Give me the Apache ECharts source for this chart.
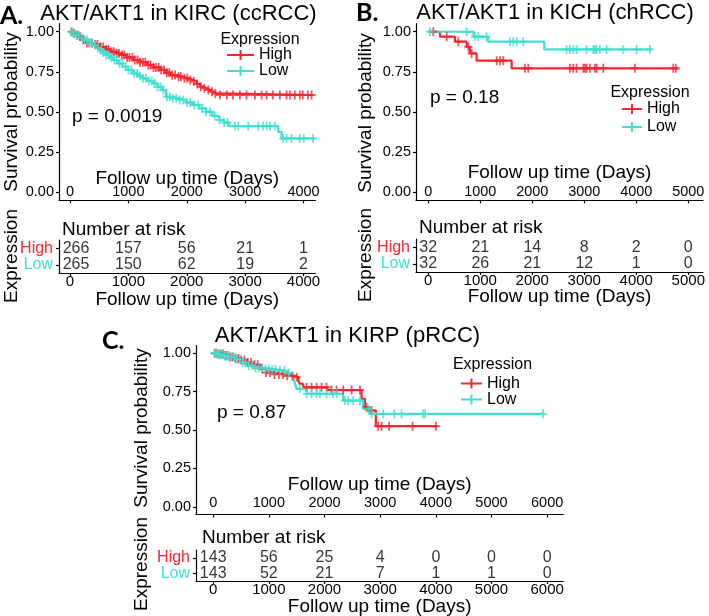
<!DOCTYPE html>
<html><head><meta charset="utf-8">
<script src="https://cdn.jsdelivr.net/npm/echarts@6/dist/echarts.min.js"></script>
<style>html,body{margin:0;padding:0;background:#fff}#c{width:709px;height:616px}</style>
</head><body><div id="c"></div>
<script>
// ---------- DATA ----------
const survTicks = [0, 0.25, 0.5, 0.75, 1];
const riskRows = ['Low', 'High'];

// Panel A: KIRC
const aTimeTicks = [0, 1000, 2000, 3000, 4000];
const aHighSteps = [[0,1],[40,0.99],[100,0.98],[150,0.97],[200,0.95],[260,0.93],[400,0.92],[520,0.905],[600,0.89],[690,0.876],[780,0.865],[860,0.855],[970,0.84],[1090,0.824],[1200,0.81],[1316,0.793],[1430,0.778],[1544,0.762],[1630,0.745],[1715,0.73],[1830,0.72],[1943,0.71],[2030,0.70],[2114,0.69],[2170,0.675],[2228,0.658],[2290,0.648],[2342,0.637],[2400,0.627],[2456,0.616],[2513,0.606],[4164,0.606]];
const aLowSteps = [[0,1],[50,0.99],[105,0.979],[160,0.963],[219,0.948],[300,0.932],[390,0.917],[450,0.901],[504,0.886],[560,0.87],[618,0.855],[675,0.84],[732,0.824],[820,0.803],[903,0.782],[990,0.761],[1074,0.74],[1160,0.725],[1245,0.71],[1330,0.694],[1416,0.678],[1500,0.657],[1587,0.637],[1644,0.595],[1760,0.585],[1873,0.575],[1990,0.56],[2101,0.544],[2215,0.523],[2329,0.502],[2440,0.476],[2557,0.45],[2640,0.435],[2728,0.413],[3566,0.377],[3623,0.336],[4194,0.336]];
const aHighCensor = [30,70,120,170,230,290,330,380,430,470,520,570,620,660,710,750,800,840,890,930,980,1020,1070,1110,1160,1200,1250,1290,1340,1380,1430,1470,1520,1560,1610,1660,1700,1750,1800,1860,1900,1960,2010,2060,2120,2180,2240,2300,2370,2430,2490,2569,2684,2791,2910,3024,3167,3282,3368,3474,3595,3709,3766,3851,3937,3988,4074,4138];
const aLowCensor = [20,60,110,150,200,250,290,340,380,430,480,530,570,620,660,710,760,800,850,900,950,1000,1050,1100,1150,1200,1250,1300,1350,1400,1450,1500,1550,1600,1660,1710,1760,1820,1880,1940,2000,2060,2130,2200,2260,2330,2400,2480,2560,2640,2700,2826,2882,3053,3224,3309,3368,3424,3509,3651,3709,3795,3937,4005,4164];
const aRiskHigh = [266, 157, 56, 21, 1];
const aRiskLow = [265, 150, 62, 19, 2];

// Panel B: KICH
const bTimeTicks = [0, 1000, 2000, 3000, 4000, 5000];
const bHighSteps = [[0,1],[225,0.969],[513,0.938],[738,0.906],[800,0.865],[930,0.82],[1603,0.772],[4808,0.772]];
const bLowSteps = [[0,1],[870,0.969],[1150,0.938],[2230,0.89],[4296,0.89]];
const bHighCensor = [96,354,578,770,834,1315,1379,1443,1859,1923,2724,2788,2852,2981,3013,3045,3109,3205,3237,3365,3974,4711,4760];
const bLowCensor = [32,738,898,962,1122,1571,1635,1699,1827,2660,2724,2788,2852,3045,3173,3205,3237,3301,3429,3750,4006,4263];
const bRiskHigh = [32, 21, 14, 8, 2, 0];
const bRiskLow = [32, 26, 21, 12, 1, 0];

// Panel C: KIRP
const cTimeTicks = [0, 1000, 2000, 3000, 4000, 5000, 6000];
const cHighSteps = [[0,1],[100,0.995],[200,0.985],[300,0.975],[400,0.965],[500,0.955],[600,0.94],[700,0.925],[839,0.898],[950,0.875],[1050,0.862],[1300,0.852],[1468,0.844],[1530,0.82],[1557,0.80],[1617,0.778],[2050,0.76],[2665,0.703],[2725,0.648],[2780,0.627],[2922,0.525],[4025,0.525]];
const cLowSteps = [[0,1],[80,0.99],[200,0.98],[300,0.974],[400,0.96],[500,0.94],[600,0.92],[750,0.905],[898,0.898],[1050,0.892],[1198,0.887],[1300,0.87],[1437,0.844],[1470,0.80],[1497,0.768],[1677,0.736],[2335,0.692],[2695,0.638],[2815,0.605],[5928,0.605]];
const cHighCensor = [30,60,100,140,180,220,260,300,350,400,450,500,560,620,680,740,800,880,950,1020,1100,1180,1250,1330,1420,1500,1678,1768,1857,1947,2037,2127,2216,2336,2487,2636,2755,2845,2964,3025,3161,3581,4000];
const cLowCensor = [20,50,90,130,170,210,250,290,330,380,430,480,530,580,640,700,760,820,880,940,1000,1060,1120,1200,1280,1360,1557,1677,1768,1857,1917,2037,2156,2216,2366,2425,2515,2636,2787,2847,3054,3252,3384,3772,3808,5928];
const cRiskHigh = [143, 56, 25, 4, 0, 0, 0];
const cRiskLow = [143, 52, 21, 7, 1, 1, 0];

// ---------- STYLE / LAYOUT ----------
const RED = '#F5262F', CYAN = '#40E0D0', INK = '#000';
const FONT = '"Liberation Sans", Arial, sans-serif';
const CROSS = 'path://M0,39H100V61H0Z M39,0H61V100H39Z';

const panels = [
  { title:'AKT/AKT1 in KIRC (ccRCC)', letter:'A.', p:'p = 0.0019',
    ticks:aTimeTicks, hs:aHighSteps, ls:aLowSteps, hc:aHighCensor, lc:aLowCensor, rh:aRiskHigh, rl:aRiskLow,
    xmin:-188, xmax:4205,
    km:{left:59, top:23.7, width:256.5, height:176.7}, risk:{left:59, top:240, width:256.5, height:33},
    kmLabelMargin:8.4, kmNameGap:-21.4, riskNameGap:27, firstShift:6,
    legend:{left:227, top:47, w:27, gap:0, lh:16},
    texts:{letter:[0,16], title:[178.5,14], p:[72,117], head:[260,40], nar:[62,230], sp:[12,112], ex:[12,256]} },
  { title:'AKT/AKT1 in KICH (chRCC)', letter:'B.', p:'p = 0.18',
    ticks:bTimeTicks, hs:bHighSteps, ls:bLowSteps, hc:bHighCensor, lc:bLowCensor, rh:bRiskHigh, rl:bRiskLow,
    xmin:-236, xmax:5283,
    km:{left:416, top:23.7, width:287, height:176.7}, risk:{left:416, top:239, width:287, height:33},
    kmLabelMargin:8.4, kmNameGap:-27.4, riskNameGap:25, firstShift:0,
    legend:{left:622, top:101, w:20, gap:2, lh:16},
    texts:{letter:[356,13], title:[555,13], p:[430,98], head:[650,93], nar:[419,228], sp:[366,113], ex:[366,255]} },
  { title:'AKT/AKT1 in KIRP (pRCC)', letter:'C.', p:'p = 0.87',
    ticks:cTimeTicks, hs:cHighSteps, ls:cLowSteps, hc:cHighCensor, lc:cLowCensor, rh:cRiskHigh, rl:cRiskLow,
    xmin:-309, xmax:6290,
    km:{left:196, top:345.5, width:367.3, height:169}, risk:{left:196, top:550, width:367.3, height:31},
    kmLabelMargin:11.5, kmNameGap:-29.5, riskNameGap:26, firstShift:0,
    legend:{left:461, top:375.5, w:21, gap:0, lh:15},
    texts:{letter:[102,341], title:[347.5,336], p:[217,413], head:[492.5,365], nar:[202,538], sp:[142,428], ex:[142,564]} }
];

function survAt(steps, t) {
  let s = steps[0][1];
  for (const [ti, si] of steps) { if (ti <= t) s = si; else break; }
  return s;
}
const axisLine = {show:true, onZero:false, lineStyle:{color:INK, width:1.2}};
const tickStyle = {color:INK, width:1.2};

const grid = [], xAxis = [], yAxis = [], series = [], legend = [], graphic = [];

panels.forEach((P, k) => {
  const gKm = grid.length; grid.push(Object.assign({outerBoundsMode:'none'}, P.km));
  const gRk = grid.length; grid.push(Object.assign({outerBoundsMode:'none'}, P.risk));

  xAxis.push({type:'value', gridIndex:gKm, min:P.xmin, max:P.xmax, axisLine,
    axisTick:{show:true, length:3, customValues:P.ticks, lineStyle:tickStyle},
    axisLabel:{inside:true, margin:P.kmLabelMargin, customValues:P.ticks, formatter:v => String(v), verticalAlign:'middle', fontSize:14.5, color:INK, fontFamily:FONT},
    splitLine:{show:false},
    name:'Follow up time (Days)', nameLocation:'middle', nameGap:P.kmNameGap, nameMoveOverlap:false,
    nameTextStyle:{fontSize:19, color:INK, fontFamily:FONT, verticalAlign:'middle'}});
  yAxis.push({type:'value', gridIndex:gKm, min:-0.05, max:1.05, axisLine,
    axisTick:{show:true, length:3, customValues:survTicks, lineStyle:tickStyle},
    axisLabel:{margin:5, customValues:survTicks, formatter:v => Number(v).toFixed(2), fontSize:14.5, color:INK, fontFamily:FONT},
    splitLine:{show:false}});

  xAxis.push({type:'value', gridIndex:gRk, min:P.xmin, max:P.xmax, axisLine,
    axisTick:{show:true, length:3, customValues:P.ticks, lineStyle:tickStyle},
    axisLabel:{margin:9, customValues:P.ticks, formatter:v => String(v), verticalAlign:'middle', fontSize:15, color:INK, fontFamily:FONT},
    splitLine:{show:false},
    name:'Follow up time (Days)', nameLocation:'middle', nameGap:P.riskNameGap, nameMoveOverlap:false,
    nameTextStyle:{fontSize:19, color:INK, fontFamily:FONT, verticalAlign:'middle'}});
  yAxis.push({type:'category', gridIndex:gRk, boundaryGap:true,
    data:[{value:riskRows[0], textStyle:{color:CYAN}}, {value:riskRows[1], textStyle:{color:RED}}],
    axisLine, axisTick:{show:true, length:3, alignWithLabel:true, interval:0, lineStyle:tickStyle},
    axisLabel:{margin:6, interval:0, fontSize:16, fontFamily:FONT}, splitLine:{show:false}});

  const xi = xAxis.length - 2, yi = yAxis.length - 2;
  const groups = [['High', RED, P.hs, P.hc, P.rh, 1], ['Low', CYAN, P.ls, P.lc, P.rl, 0]];
  groups.forEach(([name, col, steps, cens, risk, row]) => {
    series.push({type:'line', name, xAxisIndex:xi, yAxisIndex:yi, step:'end', showSymbol:false, symbol:'none',
      data:steps, lineStyle:{color:col, width:2.2}, itemStyle:{color:col}, z:2});
    series.push({type:'scatter', name, xAxisIndex:xi, yAxisIndex:yi, symbol:CROSS, symbolSize:[8,9],
      data:cens.map(t => [t, survAt(steps, t)]), itemStyle:{color:col}, z:3});
    series.push({type:'scatter', name:'risk-' + name, xAxisIndex:xi + 1, yAxisIndex:yi + 1,
      symbol:'circle', symbolSize:1, itemStyle:{color:'rgba(0,0,0,0)'},
      data:P.ticks.map((t, i) => {
        const d = {value:[t, row, risk[i]]};
        if (i === 0 && P.firstShift) d.label = {offset:[P.firstShift, 0]};
        return d;
      }),
      label:{show:true, position:'inside', formatter:p => String(p.value[2]), fontSize:16, color:INK, fontFamily:FONT}, z:3});
  });

  const L = P.legend;
  const icon = `path://M0,3.9H${L.w}V6.1H0Z M${L.w/2-1},0H${L.w/2+1}V10H${L.w/2-1}Z`;
  legend.push({left:L.left, top:L.top, orient:'vertical', itemWidth:L.w, itemHeight:10, itemGap:L.gap,
    icon, selectedMode:false, padding:0,
    textStyle:{fontSize:16, lineHeight:L.lh, color:INK, fontFamily:FONT},
    data:[{name:'High', itemStyle:{color:RED}}, {name:'Low', itemStyle:{color:CYAN}}]});

  const T = P.texts;
  const txt = (s, pos, size, align, extra) => graphic.push(Object.assign({type:'text', x:pos[0], y:pos[1],
    style:{text:s, fontSize:size, fontFamily:FONT, fill:INK, align, verticalAlign:'middle'}}, extra || {}));
  graphic.push({type:'text', x:T.letter[0], y:T.letter[1],
    style:{text:P.letter, fontSize:25, fontWeight:'bold', fontFamily:'Lato, "Open Sans", sans-serif', fill:INK, align:'left', verticalAlign:'middle'}});
  txt(P.title, T.title, 22, 'center');
  txt(P.p, T.p, 19, 'left');
  txt('Expression', T.head, 16, 'center');
  txt('Number at risk', T.nar, 19, 'left');
  txt('Survival probability', T.sp, 19, 'center', {rotation:Math.PI/2});
  txt('Expression', T.ex, 19, 'center', {rotation:Math.PI/2});
});

const chart = echarts.init(document.getElementById('c'), null, {renderer:'canvas'});
chart.setOption({animation:false, backgroundColor:'#fff', grid, xAxis, yAxis, series, legend, graphic});
</script>
</body></html>
